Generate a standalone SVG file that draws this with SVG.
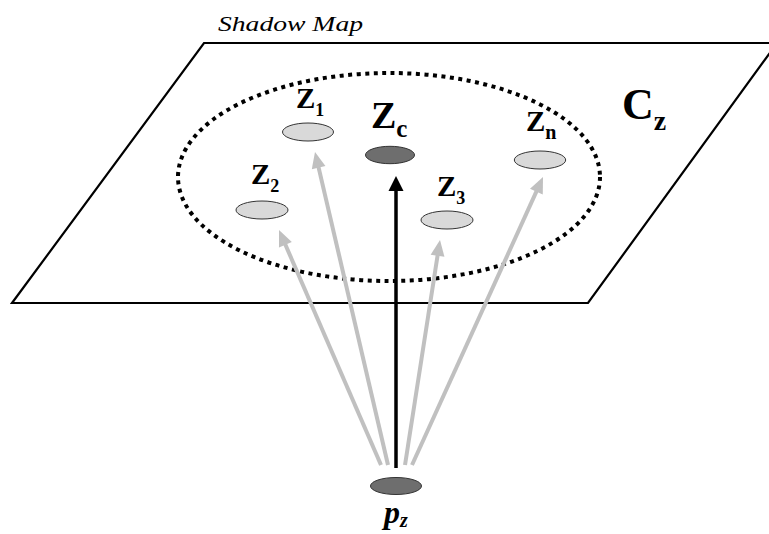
<svg xmlns="http://www.w3.org/2000/svg" width="769" height="534" viewBox="0 0 769 534">
<style>
.lbl{font-family:"Liberation Serif","Times New Roman",serif;font-weight:bold;fill:#000}
.light{fill:#d9d9d9;stroke:#333;stroke-width:1}
.dark{fill:#6e6e6e;stroke:#333;stroke-width:1}
.g{stroke:#c0c0c0;stroke-width:4;fill:none}
.b{stroke:#000;stroke-width:3.5;fill:none}
</style>
<defs>
<marker id="ag" markerUnits="userSpaceOnUse" markerWidth="16" markerHeight="14" refX="1" refY="7" orient="auto" overflow="visible">
<path d="M0,0 L16,7 L0,14 z" fill="#c0c0c0"/>
</marker>
<marker id="ab" markerUnits="userSpaceOnUse" markerWidth="15" markerHeight="15" refX="1" refY="7.5" orient="auto" overflow="visible">
<path d="M0,0 L15,7.5 L0,15 z" fill="#000"/>
</marker>
</defs>
<rect width="769" height="534" fill="#fff"/>
<g id="shadow-map">
<polygon points="204,43 777,43 588,303 12,303" fill="#fff" stroke="#000" stroke-width="2.2"/>
<ellipse cx="389" cy="177" rx="211" ry="104" fill="none" stroke="#000" stroke-width="4" stroke-dasharray="4 4.5"/>
<text x="218" y="31" font-family="'Liberation Serif','Times New Roman',serif" font-style="italic" font-size="22" textLength="145" lengthAdjust="spacingAndGlyphs">Shadow Map</text>
<text class="lbl" x="622" y="119" font-size="44">C<tspan font-size="28" dy="11">z</tspan></text>
</g>
<g id="connectors">
<line class="g" x1="381" y1="465" x2="285" y2="243.8" marker-end="url(#ag)"/>
<line class="g" x1="388" y1="465" x2="318.4" y2="166.6" marker-end="url(#ag)"/>
<line class="g" x1="405" y1="465" x2="437.7" y2="254.8" marker-end="url(#ag)"/>
<line class="g" x1="412" y1="465" x2="536.8" y2="190.7" marker-end="url(#ag)"/>
<line class="b" x1="396" y1="468" x2="396" y2="190" marker-end="url(#ab)"/>
</g>
<g id="z1">
<ellipse class="light" cx="308" cy="132" rx="25.5" ry="9"/>
<text class="lbl" x="296" y="108" font-size="29">Z<tspan font-size="18" dy="8">1</tspan></text>
</g>
<g id="zc">
<ellipse class="dark" cx="390" cy="155" rx="24.5" ry="8.7"/>
<text class="lbl" x="371" y="128" font-size="38">Z<tspan font-size="25" dy="9">c</tspan></text>
</g>
<g id="z2">
<ellipse class="light" cx="262" cy="210" rx="26" ry="9"/>
<text class="lbl" x="251" y="184" font-size="29">Z<tspan font-size="18" dy="8">2</tspan></text>
</g>
<g id="z3">
<ellipse class="light" cx="447" cy="220" rx="26" ry="9"/>
<text class="lbl" x="437" y="196" font-size="29">Z<tspan font-size="18" dy="8">3</tspan></text>
</g>
<g id="zn">
<ellipse class="light" cx="540" cy="160" rx="25.7" ry="9"/>
<text class="lbl" x="526" y="131" font-size="29">Z<tspan font-size="20" dy="8">n</tspan></text>
</g>
<g id="pz">
<ellipse class="dark" cx="396" cy="486" rx="25.5" ry="8.5"/>
<text class="lbl" x="384" y="523" font-size="32" font-style="italic">p<tspan font-size="20" dy="4">z</tspan></text>
</g>
</svg>
